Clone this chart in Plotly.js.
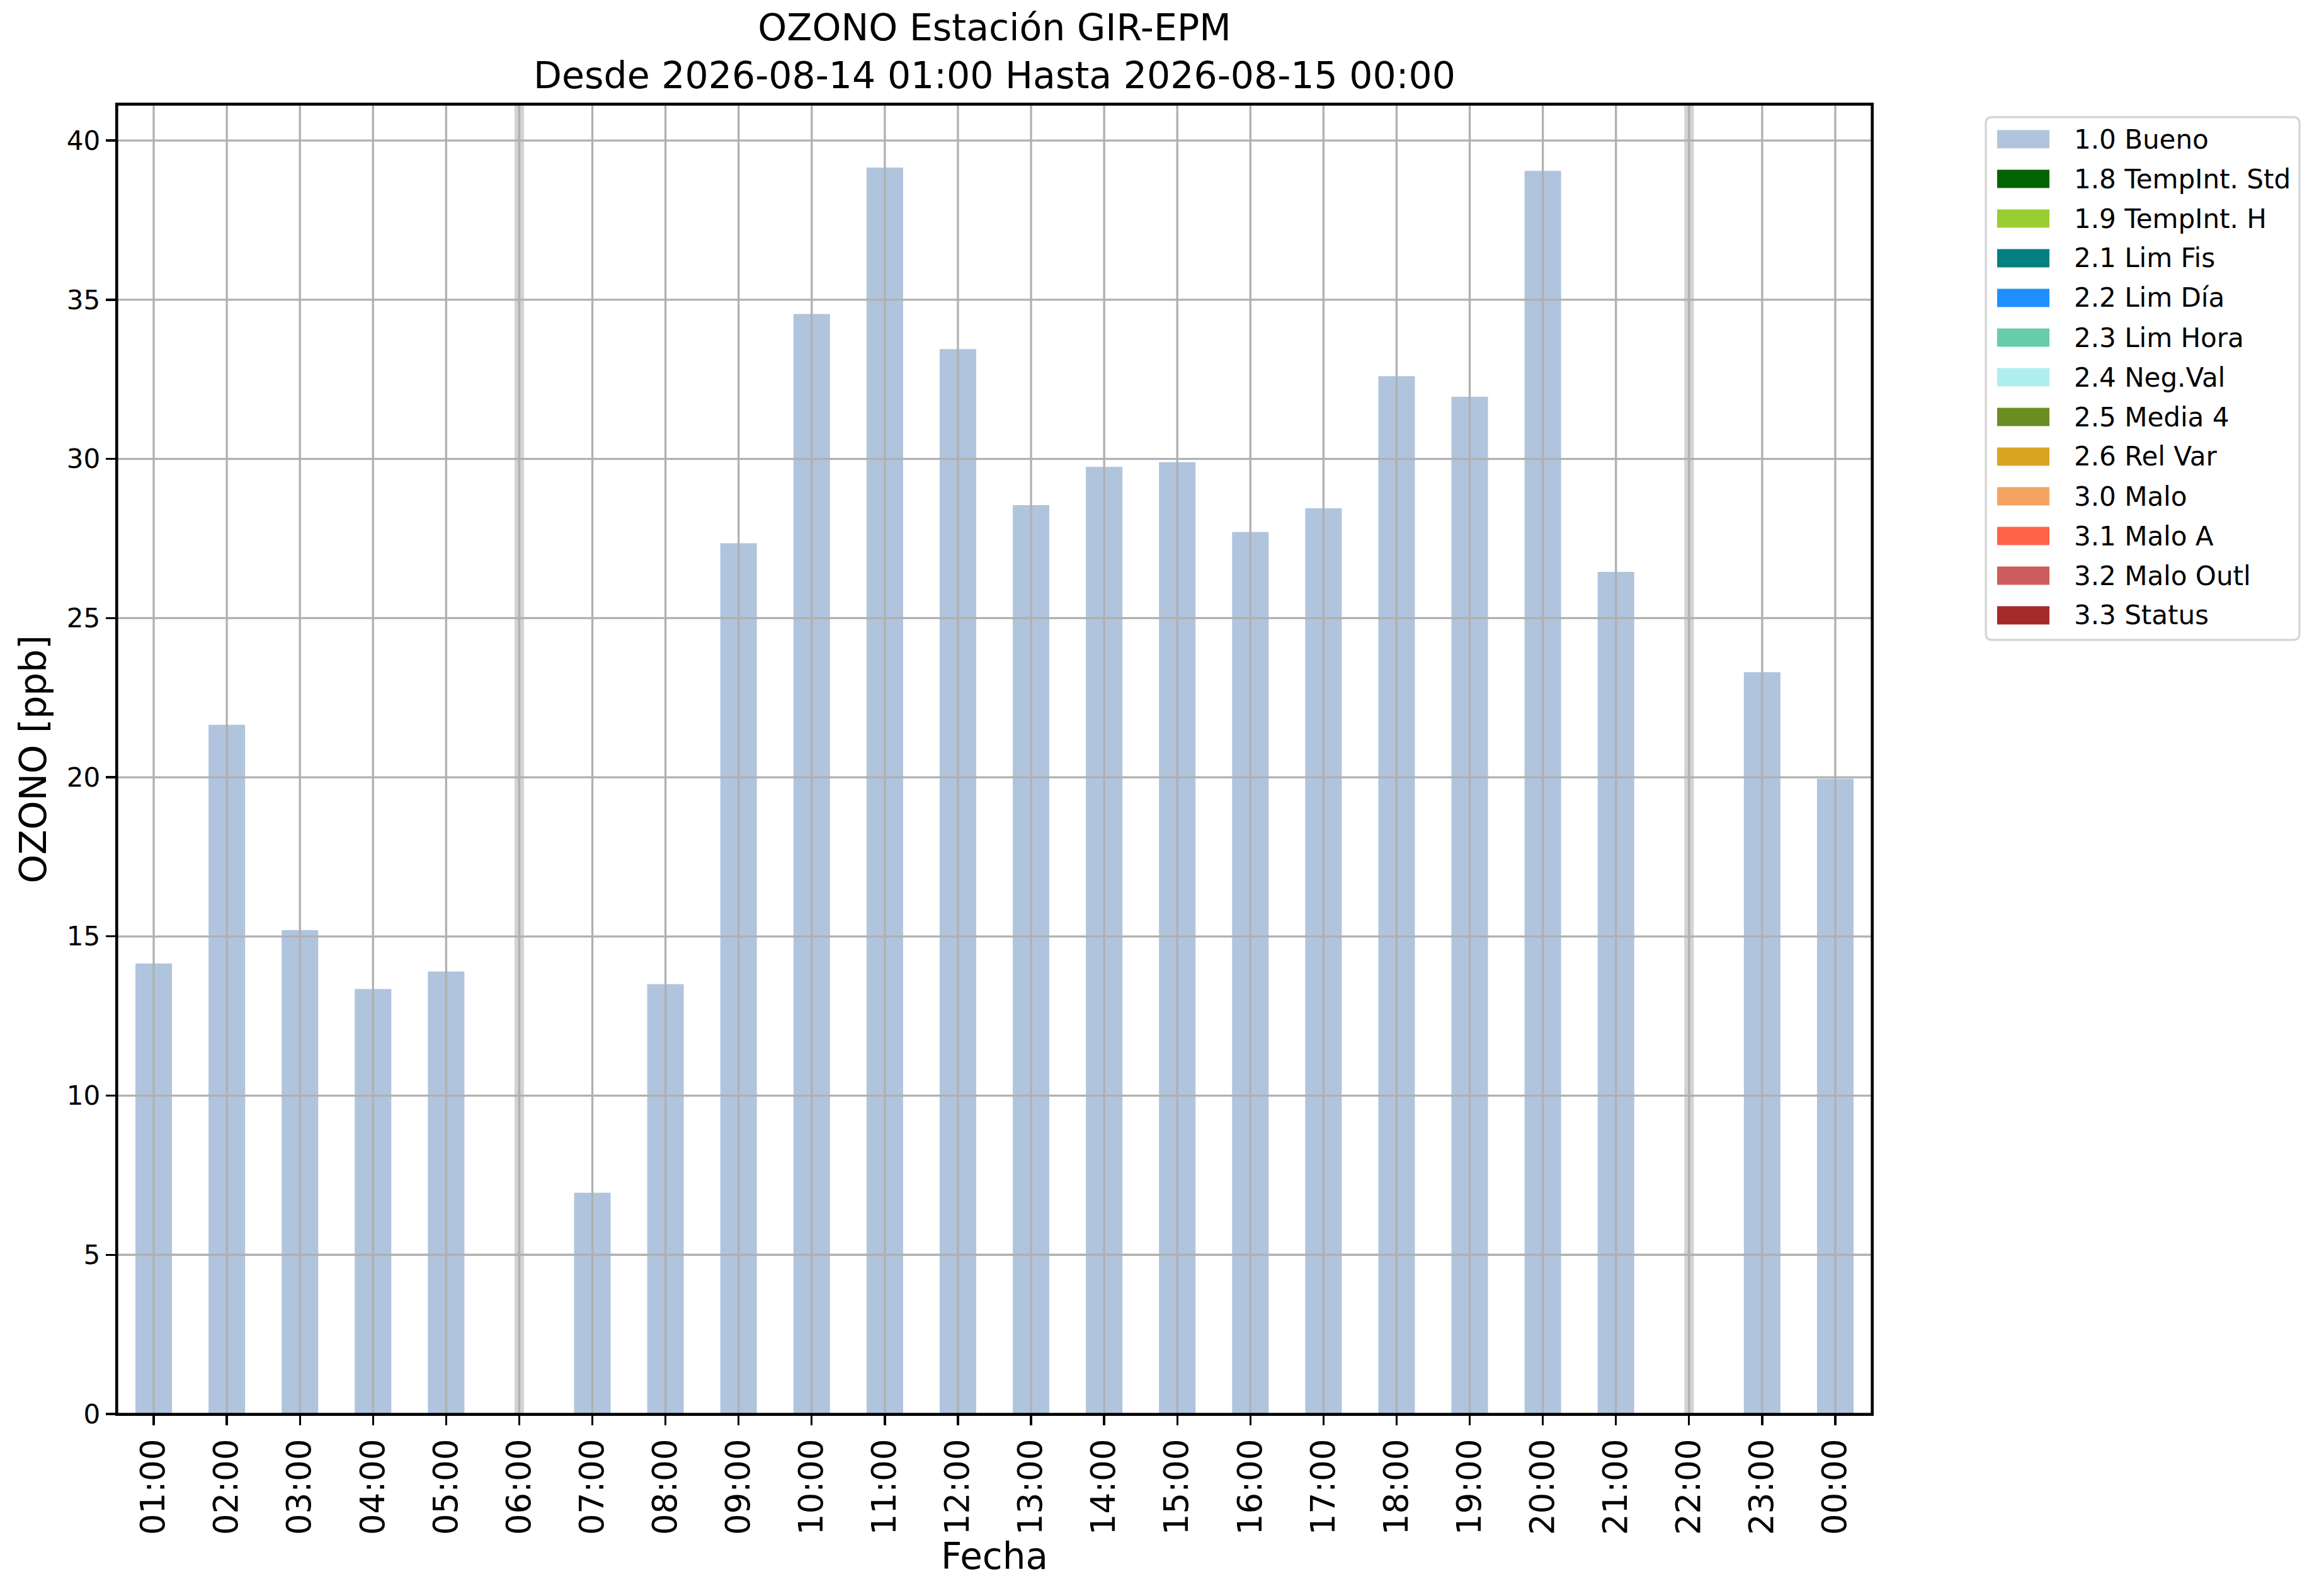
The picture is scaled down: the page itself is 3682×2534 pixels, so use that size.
<!DOCTYPE html>
<html>
<head>
<meta charset="utf-8">
<script src="https://cdn.plot.ly/plotly-3.0.1.min.js"></script>
<style>html,body{margin:0;padding:0;background:#fff;}#chart{width:3682px;height:2534px;}</style>
</head>
<body>
<div id="chart"></div>
<script>
const categories = ['01:00','02:00','03:00','04:00','05:00','06:00','07:00','08:00','09:00','10:00','11:00','12:00',
                    '13:00','14:00','15:00','16:00','17:00','18:00','19:00','20:00','21:00','22:00','23:00','00:00'];
const ozono = [14.15, 21.65, 15.2, 13.35, 13.9, null, 6.95, 13.5, 27.35, 34.55, 39.15, 33.45,
               28.55, 29.75, 29.9, 27.7, 28.45, 32.6, 31.95, 39.05, 26.45, null, 23.3, 19.95];
const yTicks = [0, 5, 10, 15, 20, 25, 30, 35, 40];
const legendNames = ['1.0 Bueno','1.8 TempInt. Std','1.9 TempInt. H','2.1 Lim Fis','2.2 Lim Día','2.3 Lim Hora',
                     '2.4 Neg.Val','2.5 Media 4','2.6 Rel Var','3.0 Malo','3.1 Malo A','3.2 Malo Outl','3.3 Status'];
const legendColors = ['#b0c4de','#006400','#9acd32','#008080','#1e90ff','#66cdaa',
                      '#afeeee','#6b8e23','#daa520','#f4a460','#ff6347','#cd5c5c','#a52a2a'];

const W = 3682, H = 2534;
const L = 186, R = 2972, T = 166, B = 2245;
const PW = R - L, PH = B - T;
const px = v => (v - L) / PW;          // pixel x -> paper
const py = v => (B - v) / PH;          // pixel y -> paper
const FONT = 'DejaVu Sans';
const GRID = '#b0b0b0';

const shapes = [];
// missing-data markers (null values)
categories.forEach((c, i) => {
  if (ozono[i] === null) {
    shapes.push({type:'line', xref:'x', yref:'paper', x0:c, x1:c, y0:0, y1:1,
                 line:{color:'#d3d3d3', width:15}, layer:'above'});
  }
});
// gridlines drawn above the bars (as in the reference)
categories.forEach(c => {
  shapes.push({type:'line', xref:'x', yref:'paper', x0:c, x1:c, y0:0, y1:1,
               line:{color:GRID, width:3.3}, layer:'above'});
});
yTicks.filter(v => v > 0).forEach(v => {
  shapes.push({type:'line', xref:'paper', yref:'y', x0:0, x1:1, y0:v, y1:v,
               line:{color:GRID, width:3.3}, layer:'above'});
});
// frame
shapes.push({type:'rect', xref:'paper', yref:'paper', x0:0, x1:1, y0:0, y1:1,
             line:{color:'#000', width:3.3}, fillcolor:'rgba(0,0,0,0)', layer:'above'});

// legend box (rounded)
const lx0 = 3153, lx1 = 3651, ly0 = 186, ly1 = 1016, rad = 10;
const rx = rad / PW, ry = rad / PH;
const X0 = px(lx0), X1 = px(lx1), Y0 = py(ly0), Y1 = py(ly1);
shapes.push({type:'path', xref:'paper', yref:'paper',
  path: `M${X0+rx},${Y0} L${X1-rx},${Y0} Q${X1},${Y0} ${X1},${Y0-ry} L${X1},${Y1+ry} Q${X1},${Y1} ${X1-rx},${Y1} ` +
        `L${X0+rx},${Y1} Q${X0},${Y1} ${X0},${Y1+ry} L${X0},${Y0-ry} Q${X0},${Y0} ${X0+rx},${Y0} Z`,
  line:{color:'#d6d6d6', width:3.3}, fillcolor:'rgba(255,255,255,0.8)', layer:'above'});

const annotations = [];
const entry0 = 221, step = 63.0;
legendNames.forEach((name, i) => {
  const cy = entry0 + i * step;
  shapes.push({type:'rect', xref:'paper', yref:'paper',
    x0:px(3171), x1:px(3254), y0:py(cy + 14.5), y1:py(cy - 14.5),
    line:{width:0}, fillcolor:legendColors[i], layer:'above'});
  annotations.push({xref:'paper', yref:'paper', x:px(3291), y:py(cy), xanchor:'left', yanchor:'middle',
    text:name, showarrow:false, font:{family:FONT, size:42, color:'#000'}});
});

const trace = {
  type:'bar', x:categories, y:ozono, width:0.5,
  marker:{color:legendColors[0], line:{width:0}},
  name:legendNames[0], showlegend:false, hoverinfo:'x+y'
};

const layout = {
  width:W, height:H, autosize:false,
  paper_bgcolor:'#fff', plot_bgcolor:'#fff',
  margin:{l:L, r:W-R, t:T, b:H-B, pad:0},
  showlegend:false,
  title:{text:'OZONO Estación GIR-EPM<br>Desde 2026-08-14 01:00 Hasta 2026-08-15 00:00',
         font:{family:FONT, size:58.5, color:'#000'}, x:0.5, xref:'paper', xanchor:'center',
         y:1 - 64/H, yref:'container', yanchor:'top'},
  font:{family:FONT, color:'#000'},
  bargap:0.5,
  xaxis:{type:'category', categoryorder:'array', categoryarray:categories,
         range:[-0.5, categories.length - 0.5], showgrid:false, zeroline:false,
         showline:true, linecolor:'#000', linewidth:3.3, mirror:true,
         ticks:'outside', ticklen:15, tickwidth:3.3, tickcolor:'#000',
         tickangle:-90, tickfont:{family:FONT, size:53, color:'#000'},
         title:{text:'Fecha', font:{family:FONT, size:58, color:'#000'}, standoff:14}},
  yaxis:{range:[0, 41.13], tickvals:yTicks, ticktext:yTicks.map(String),
         showgrid:false, zeroline:false,
         showline:true, linecolor:'#000', linewidth:3.3, mirror:true,
         ticks:'outside', ticklen:15, tickwidth:3.3, tickcolor:'#000',
         tickfont:{family:FONT, size:42, color:'#000'},
         title:{text:'OZONO [ppb]', font:{family:FONT, size:58, color:'#000'}, standoff:14}},
  shapes:shapes,
  annotations:annotations
};

Plotly.newPlot('chart', [trace], layout, {staticPlot:true, displayModeBar:false});
</script>
</body>
</html>
